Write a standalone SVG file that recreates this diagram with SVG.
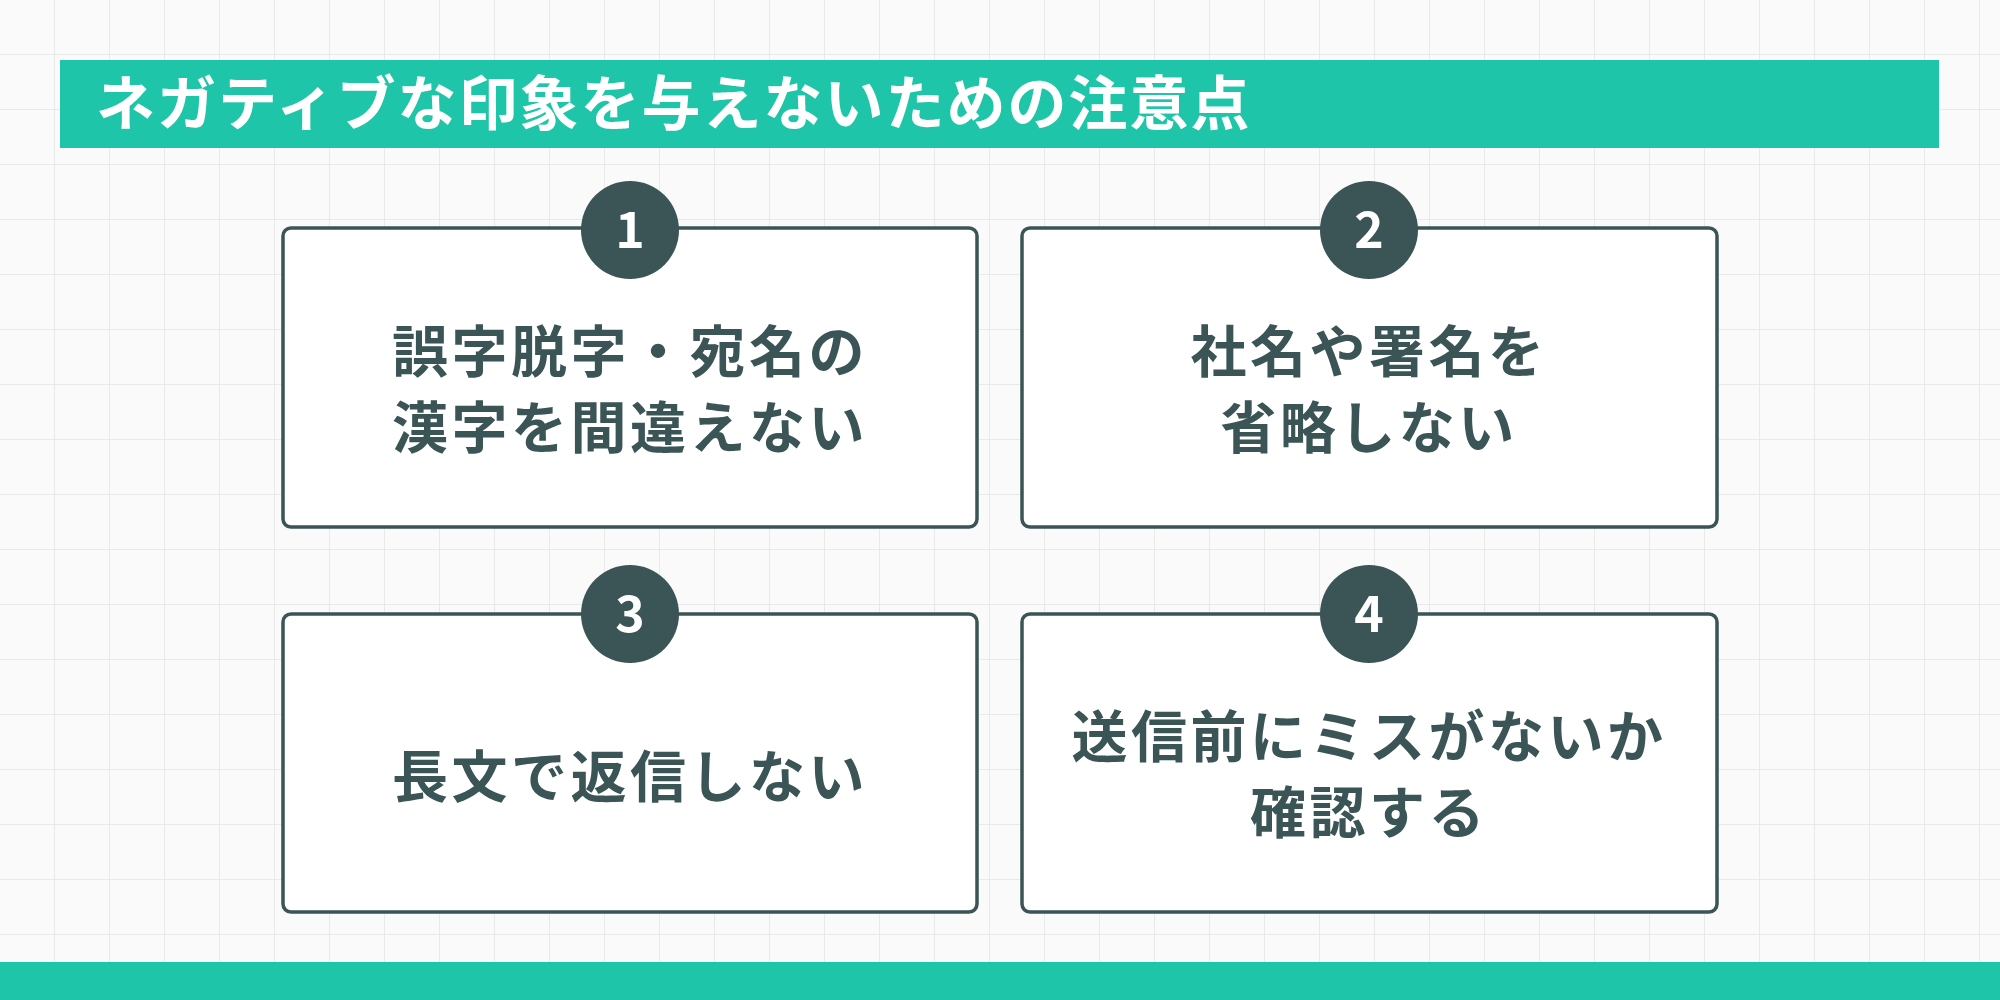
<svg xmlns="http://www.w3.org/2000/svg" width="2000" height="1000" viewBox="0 0 2000 1000">
<style>
.box{fill:#fff;stroke:#3b5456;stroke-width:3.5}
.num{fill:#3b5456}
.nt{fill:#fff;font-family:"Noto Sans CJK JP","Noto Sans",sans-serif;font-weight:700;font-size:50px;text-anchor:middle}
.t{fill:#3b5456;font-family:"Noto Sans CJK JP",sans-serif;font-weight:700;font-size:56px;text-anchor:middle;letter-spacing:3.5px}
</style>
<defs>
<pattern id="g" width="55" height="55" patternUnits="userSpaceOnUse">
<path d="M55 0V55M0 55H55" fill="none" stroke="#e4e4e4" stroke-width="1.5"/>
</pattern>
</defs>
<rect width="2000" height="1000" fill="#fafafa"/>
<rect width="2000" height="1000" fill="url(#g)"/>
<g id="header">
<rect x="60" y="60" width="1879" height="88" fill="#1fc5a8"/>
<text x="96" y="125" font-family="Noto Sans CJK JP,sans-serif" font-weight="700" font-size="59" fill="#fff" letter-spacing="2">ネガティブな印象を与えないための注意点</text>
</g>
<g id="n1"><rect class="box" x="283" y="228" width="694" height="299" rx="8"/><circle class="num" cx="630" cy="230" r="49"/><text class="nt" x="630" y="248">1</text>
<text class="t" x="630" y="372">誤字脱字・宛名の</text><text class="t" x="630" y="448">漢字を間違えない</text></g>
<g id="n2"><rect class="box" x="1022" y="228" width="695" height="299" rx="8"/><circle class="num" cx="1369" cy="230" r="49"/><text class="nt" x="1369" y="248">2</text>
<text class="t" x="1369" y="372">社名や署名を</text><text class="t" x="1369" y="448">省略しない</text></g>
<g id="n3"><rect class="box" x="283" y="614" width="694" height="298" rx="8"/><circle class="num" cx="630" cy="614" r="49"/><text class="nt" x="630" y="632">3</text>
<text class="t" x="630" y="797">長文で返信しない</text></g>
<g id="n4"><rect class="box" x="1022" y="614" width="695" height="298" rx="8"/><circle class="num" cx="1369" cy="614" r="49"/><text class="nt" x="1369" y="632">4</text>
<text class="t" x="1369" y="757">送信前にミスがないか</text><text class="t" x="1369" y="833">確認する</text></g>
<g id="connectors"/>
<rect x="0" y="962" width="2000" height="38" fill="#1fc5a8"/>
</svg>
